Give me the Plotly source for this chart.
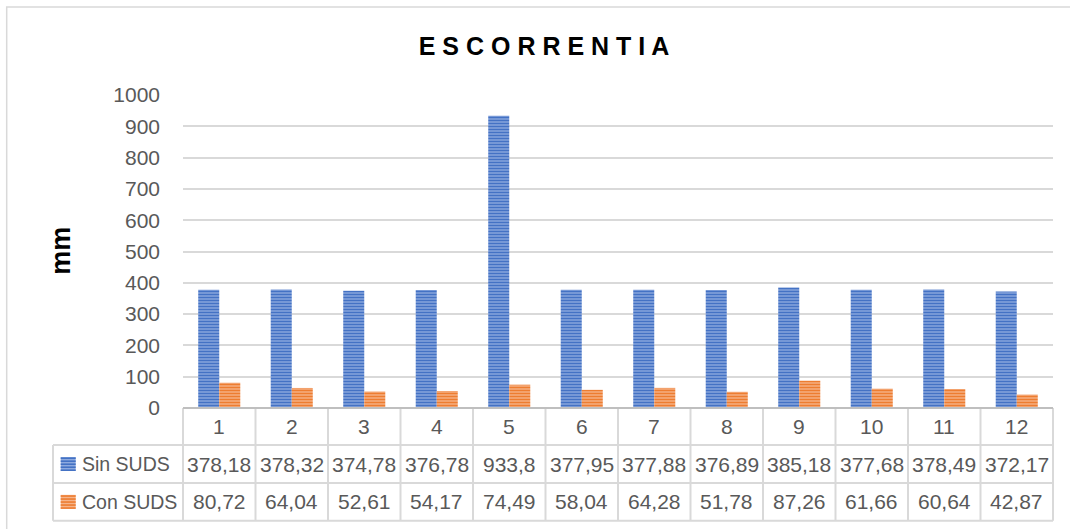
import plotly.graph_objects as go

# --- data ---
months = ["1", "2", "3", "4", "5", "6", "7", "8", "9", "10", "11", "12"]
sin_suds = [378.18, 378.32, 374.78, 376.78, 933.8, 377.95, 377.88, 376.89, 385.18, 377.68, 378.49, 372.17]
con_suds = [80.72, 64.04, 52.61, 54.17, 74.49, 58.04, 64.28, 51.78, 87.26, 61.66, 60.64, 42.87]
series_names = ["Sin SUDS", "Con SUDS"]
y_ticks = list(range(0, 1001, 100))

# --- styling ---
W, H = 1070, 529
L, R, T, B = 183.3, 1053.3, 95.0, 408.0      # plot area in pixels
BLUE_FG, BLUE_BG = "#4472c4", "#8eaadf"
ORANGE_FG, ORANGE_BG = "#ed7d31", "#f6b48a"
GRID = "#d9d9d9"
TEXT = "#595959"
FONT = "Liberation Sans, Arial, sans-serif"


def px_x(p):
    return (p - L) / (R - L)


def px_y(p):
    return (B - p) / (B - T)


fig = go.Figure()
fig.add_trace(go.Bar(
    x=months, y=sin_suds, name=series_names[0],
    marker=dict(color=BLUE_FG, line=dict(width=0),
                pattern=dict(shape="-", fgcolor=BLUE_FG, bgcolor=BLUE_BG,
                             size=3, solidity=0.55, fillmode="replace")),
))
fig.add_trace(go.Bar(
    x=months, y=con_suds, name=series_names[1],
    marker=dict(color=ORANGE_FG, line=dict(width=0),
                pattern=dict(shape="-", fgcolor=ORANGE_FG, bgcolor=ORANGE_BG,
                             size=3, solidity=0.55, fillmode="replace")),
))

shapes = []
annotations = []

# outer chart frame
shapes.append(dict(type="rect", xref="paper", yref="paper",
                   x0=px_x(7), x1=px_x(1080), y0=px_y(540), y1=px_y(7),
                   line=dict(color=GRID, width=1.5), layer="below"))

# data table grid
row_lines = [445.0, 483.0, 520.7]
table_left = 53.3
n = len(months)
cell_w = (R - L) / n
for y in row_lines:
    shapes.append(dict(type="line", xref="paper", yref="paper",
                       x0=px_x(table_left), x1=px_x(R), y0=px_y(y), y1=px_y(y),
                       line=dict(color=GRID, width=2)))
for k in range(n + 1):
    xk = L + k * cell_w
    shapes.append(dict(type="line", xref="paper", yref="paper",
                       x0=px_x(xk), x1=px_x(xk), y0=px_y(B), y1=px_y(row_lines[-1]),
                       line=dict(color=GRID, width=2)))
shapes.append(dict(type="line", xref="paper", yref="paper",
                   x0=px_x(table_left), x1=px_x(table_left),
                   y0=px_y(row_lines[0]), y1=px_y(row_lines[-1]),
                   line=dict(color=GRID, width=2)))
# axis base line
shapes.append(dict(type="line", xref="paper", yref="paper",
                   x0=0, x1=1, y0=0, y1=0, line=dict(color="#bfbfbf", width=2)))

header_y = (B + row_lines[0]) / 2
row_y = [(row_lines[0] + row_lines[1]) / 2, (row_lines[1] + row_lines[2]) / 2]

cell_font = dict(family=FONT, size=21, color=TEXT)

# category header row (category axis positions are indices)
for i, m in enumerate(months):
    annotations.append(dict(x=i, xref="x", y=px_y(header_y), yref="paper",
                            text=m, showarrow=False, xanchor="center",
                            yanchor="middle", font=cell_font))


def fmt(v):
    return f"{v:g}".replace(".", ",")


for ry, values in zip(row_y, [sin_suds, con_suds]):
    for i, v in enumerate(values):
        annotations.append(dict(x=i, xref="x", y=px_y(ry), yref="paper",
                                text=fmt(v), showarrow=False, xanchor="center",
                                yanchor="middle", font=cell_font))

# legend keys and labels inside the table
for ry, name, fg, bg in zip(row_y, series_names, [BLUE_FG, ORANGE_FG], [BLUE_BG, ORANGE_BG]):
    k0, k1 = ry - 7, ry + 7
    shapes.append(dict(type="rect", xref="paper", yref="paper",
                       x0=px_x(61), x1=px_x(76), y0=px_y(k1), y1=px_y(k0),
                       fillcolor=bg, line=dict(width=0)))
    yy = k0 + 1.2
    while yy < k1:
        shapes.append(dict(type="line", xref="paper", yref="paper",
                           x0=px_x(61), x1=px_x(76), y0=px_y(yy), y1=px_y(yy),
                           line=dict(color=fg, width=1.6)))
        yy += 3
    annotations.append(dict(x=px_x(80), xref="paper", y=px_y(ry), yref="paper",
                            text=name, showarrow=False, xanchor="left",
                            yanchor="middle",
                            font=dict(family=FONT, size=19.5, color=TEXT)))

# y axis title
annotations.append(dict(x=px_x(61), xref="paper", y=px_y(251), yref="paper",
                        text="mm", textangle=-90, showarrow=False,
                        xanchor="center", yanchor="middle",
                        font=dict(family=FONT, size=27, color="#000000", weight="bold")))

fig.update_layout(
    width=W, height=H, autosize=False,
    margin=dict(l=L, r=W - R, t=T, b=H - B, pad=0),
    paper_bgcolor="white", plot_bgcolor="white",
    showlegend=False,
    barmode="group", bargap=0.42, bargroupgap=0,
    title=dict(text="E S C O R R E N T I A", x=544 / W, xanchor="center",
               y=1 - 46 / H, yanchor="middle",
               font=dict(family=FONT, size=25, color="#000000", weight="bold")),
    xaxis=dict(type="category", showticklabels=False, showgrid=False,
               showline=False, zeroline=False, ticks=""),
    yaxis=dict(range=[0, 1000], tickvals=y_ticks, showgrid=True, gridcolor=GRID,
               gridwidth=1.5, zeroline=False, showline=False, ticks="",
               ticklabelstandoff=22,
               tickfont=dict(family=FONT, size=21, color=TEXT)),
    shapes=shapes, annotations=annotations,
)

fig.write_html("out.html")
